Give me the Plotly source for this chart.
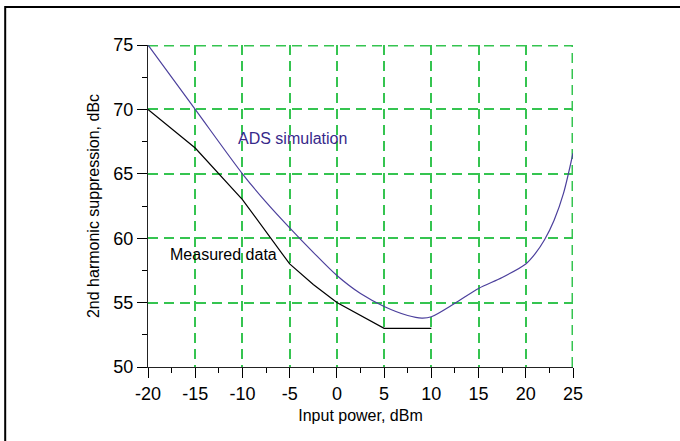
import plotly.graph_objects as go

# Input power sweep and 2nd harmonic suppression, dBc
ads_power = [-20, -15, -10, -7.5, -5, -2.5, 0, 2.5, 5, 7.5, 9, 10, 12.5, 15, 17.5, 20, 21, 22, 23, 24, 25]
ads_supp = [75, 70, 65, 62.8, 60.8, 58.9, 57.1, 55.7, 54.7, 54.0, 53.8, 53.9, 54.95, 56.1, 56.95, 58.0, 58.8, 59.9, 61.4, 63.5, 66.6]

meas_power = [-20, -15, -10, -5, -2.5, 0, 5, 10]
meas_supp = [70, 67, 63, 58, 56.4, 55, 53, 53]

x_ticks = [-20, -15, -10, -5, 0, 5, 10, 15, 20, 25]
y_ticks = [50, 55, 60, 65, 70, 75]

FONT = "Liberation Sans, Arial, sans-serif"
GRID = "#35c450"
GRID_DASH = "10px,6px"
ADS_COLOR = "#4b3f9c"

fig = go.Figure()
fig.add_trace(go.Scatter(
    x=ads_power, y=ads_supp, mode="lines", name="ADS simulation",
    line=dict(color=ADS_COLOR, width=1.2, shape="spline", smoothing=0.8),
))
fig.add_trace(go.Scatter(
    x=meas_power, y=meas_supp, mode="lines", name="Measured data",
    line=dict(color="black", width=1.2),
))

axis_common = dict(
    ticks="outside", ticklen=10, tickwidth=1, tickcolor="black",
    showline=True, linecolor="#222", linewidth=1.2,
    showgrid=True, gridcolor=GRID, gridwidth=1.5, griddash=GRID_DASH,
    zeroline=False,
    tickfont=dict(family=FONT, size=18, color="black"),
    minor=dict(ticks="outside", ticklen=5, tickwidth=1, tickcolor="black", showgrid=False),
)

fig.update_xaxes(
    range=[x_ticks[0], x_ticks[-1]], tickvals=x_ticks, ticktext=[str(v) for v in x_ticks],
    title=dict(text="Input power, dBm", font=dict(family=FONT, size=16, color="black"), standoff=7),
    **axis_common,
)
fig.update_xaxes(minor_dtick=2.5, minor_tick0=0)
fig.update_yaxes(
    range=[y_ticks[0], y_ticks[-1]], tickvals=y_ticks, ticktext=[str(v) for v in y_ticks],
    title=dict(text="2nd harmonic suppression, dBc", font=dict(family=FONT, size=16, color="black"), standoff=9),
    **axis_common,
)
fig.update_yaxes(minor_dtick=2.5, minor_tick0=0)

# grid lines on the far edges (top and right), which the axis grid leaves out;
# drawn twice as wide because half of each is clipped by the plot area
grid_line = dict(color=GRID, width=3, dash=GRID_DASH)
fig.add_shape(type="line", xref="x", yref="y",
              x0=x_ticks[0], x1=x_ticks[-1], y0=y_ticks[-1], y1=y_ticks[-1], line=grid_line, layer="below")
fig.add_shape(type="line", xref="x", yref="y",
              x0=x_ticks[-1], x1=x_ticks[-1], y0=y_ticks[0], y1=y_ticks[-1], line=grid_line, layer="below")

fig.add_annotation(x=-10.65, y=67.75, xref="x", yref="y", text="ADS simulation",
                   showarrow=False, xanchor="left", yanchor="middle",
                   font=dict(family=FONT, size=16, color="#37298a"))
fig.add_annotation(x=-17.9, y=58.7, xref="x", yref="y", text="Measured data",
                   showarrow=False, xanchor="left", yanchor="middle",
                   font=dict(family=FONT, size=16, color="black"))

# outer frame of the figure
fig.add_shape(type="rect", xref="paper", yref="paper",
              x0=-0.336, y0=-1.0, x1=2.0, y1=1.118,
              line=dict(color="black", width=2), layer="above")

fig.update_layout(
    width=680, height=441,
    margin=dict(l=148, r=107, t=45, b=74),
    paper_bgcolor="white", plot_bgcolor="white",
    showlegend=False,
    font=dict(family=FONT, color="black"),
)

fig.write_html("out.html")
